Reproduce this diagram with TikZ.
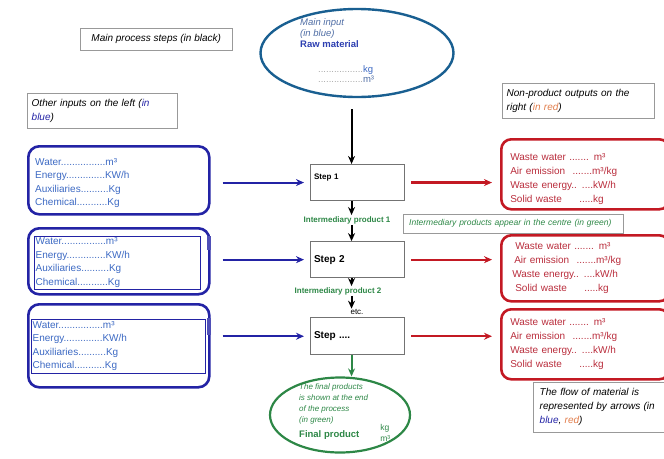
\documentclass[tikz,border=0pt]{standalone}
\usepackage{fontspec}
\setmainfont{Liberation Sans}
\usetikzlibrary{shapes, arrows.meta, positioning, calc}
\definecolor{inblue}{RGB}{35,35,165}
\definecolor{intxt}{RGB}{60,105,195}
\definecolor{outred}{RGB}{195,25,35}
\definecolor{outtxt}{RGB}{185,45,60}
\definecolor{prodgreen}{RGB}{45,135,70}
\definecolor{rawblue}{RGB}{25,95,145}
\definecolor{rawtxt}{RGB}{80,110,165}
\definecolor{notered}{RGB}{225,125,75}
\tikzset{
  note/.style={rectangle, draw=black!40, anchor=north west, inner sep=0pt, align=left, font=\fontsize{10}{14}\selectfont\itshape},
  stepbox/.style={rectangle, draw=black!55, line width=1.1pt, anchor=north west, minimum width=94pt, minimum height=36pt, text width=87pt, align=left, font=\bfseries},
  inbox/.style={rectangle, rounded corners=11pt, draw=inblue, line width=2.6pt, anchor=north west, minimum width=181pt, inner sep=0pt},
  inlist/.style={align=left, text=intxt, font=\fontsize{10}{13.5}\selectfont},
  outbox/.style={rectangle, rounded corners=10pt, draw=outred, line width=2.6pt, anchor=north west, minimum width=168pt, text width=150pt, inner xsep=0pt, inner ysep=0pt, align=left, text=outtxt, font=\fontsize{10}{14}\selectfont},
  flow/.style={-{Stealth[length=8pt,width=7pt]}, line width=2pt},
  flowin/.style={flow, inblue, shorten <=12pt, shorten >=6pt},
  flowout/.style={flow, outred, line width=2.3pt, shorten <=6pt, shorten >=8pt},
  interm/.style={text=prodgreen, font=\fontsize{8}{10}\selectfont\bfseries, inner sep=1pt},
}
\begin{document}
\begin{tikzpicture}[x=1pt, y=-1pt]
\useasboundingbox (0,0) rectangle (664,458);
%notes
\node[note, minimum width=152pt, minimum height=22pt, align=center] (notesteps) at (80,28) {Main process steps (in black)};
\node[note, minimum width=150pt, minimum height=35pt, text width=141pt] (notein) at (27,93) {Other inputs on the left ({\color{inblue}in}\\ {\color{inblue}blue})};
\node[note, minimum width=152pt, minimum height=35pt, text width=143pt] (noteout) at (502,83) {Non-product outputs on the\\ right ({\color{notered}in red})};
\node[note, minimum width=220pt, minimum height=19pt, text width=208pt, text=prodgreen, font=\fontsize{8.5}{10}\selectfont\itshape] (notemid) at (403,214) {Intermediary products appear in the centre (in green)};
\node[note, minimum width=131pt, minimum height=50pt, text width=118pt] (noteflow) at (533,382) {The flow of material is\\ represented by arrows (in\\ {\color{inblue}blue}, {\color{notered}red})};
%main input
\node[ellipse, draw=rawblue, line width=2.4pt, minimum width=193pt, minimum height=88pt] (rawmat) at (357,53) {};
\node[anchor=north west, align=left, inner sep=0pt, text=rawtxt, font=\fontsize{9.5}{11}\selectfont] (rawtext) at (300,18) {{\itshape Main input}\\ {\itshape (in blue)}\\ {\bfseries\color{inblue!60!intxt} Raw material}\\[14pt] \hspace*{18pt}{\color{black!35}.................}{\color{intxt}kg}\\[-1pt] \hspace*{18pt}{\color{black!35}.................}m³};
%steps
\node[stepbox, text depth=12pt, font=\fontsize{8}{10}\selectfont\bfseries] (step1) at (310,164) {Step 1};
\node[stepbox, below=40pt of step1, font=\fontsize{10}{12}\selectfont\bfseries] (step2) {Step 2};
\node[stepbox, below=39pt of step2, minimum height=37pt, font=\fontsize{10}{12}\selectfont\bfseries] (step3) {Step ....};
\coordinate (axis) at ([xshift=-6pt]step1.north);
\node[interm] (imp1) at (347,220) {Intermediary product 1};
\node[interm] (imp2) at (338,291) {Intermediary product 2};
\node[inner sep=0.5pt, font=\fontsize{8}{10}\selectfont] (etc) at (357,312) {etc.};
%final product
\node[ellipse, draw=prodgreen, line width=2.2pt, minimum width=140pt, minimum height=75pt] (finalprod) at (340,415) {};
\node[anchor=north west, align=left, inner sep=0pt, text=prodgreen, font=\fontsize{8}{11}\selectfont\itshape] (finaltext) at (299,383) {The final products\\ is shown at the end\\ of the process\\ (in green)\\ {\upshape\bfseries\fontsize{9.5}{11}\selectfont Final product}\hspace{21pt}\raisebox{-4pt}{\upshape\fontsize{8.5}{10}\selectfont\shortstack[l]{kg\\m³}}};
%other inputs
\node[inbox, minimum height=68pt] (inleft1) at (27,145) {};
\node[inlist, anchor=north west, inner sep=0pt] (inlist1) at (35,158) {Water................m³\\ Energy..............KW/h\\ Auxiliaries..........Kg\\ Chemical...........Kg};
\node[inbox, minimum height=66pt] (inleft2) at (27,227) {};
\node[inlist, draw=inblue, anchor=north west, minimum width=166pt, minimum height=53pt, text width=163pt, inner sep=1pt] (inlist2) at (34,236) {Water................m³\\ Energy..............KW/h\\ Auxiliaries..........Kg\\ Chemical...........Kg};
\node[inbox, minimum height=83pt] (inleft3) at (27,303) {};
\node[inlist, draw=inblue, anchor=north west, minimum width=174pt, minimum height=54pt, text width=171pt, inner sep=1pt] (inlist3) at (31,319) {Water................m³\\ Energy..............KW/h\\ Auxiliaries..........Kg\\ Chemical...........Kg};
\fill[inblue!80] ([xshift=-4pt,yshift=-9pt]inleft2.north east) rectangle ([yshift=-23pt]inleft2.north east);
\fill[inblue!80] ([xshift=-4pt,yshift=-15pt]inleft3.north east) rectangle ([yshift=-32pt]inleft3.north east);
%non-product outputs
\node[outbox, minimum height=70pt] (outright1) at (500,138) {\mbox{}\\[2pt] Waste water ....... m³\\ Air emission \hspace{4pt}.......m³/kg\\ Waste energy.. ....kW/h\\ Solid waste \hspace{14pt}.....kg};
\node[outbox, minimum height=66pt] (outright2) at (500,234) {\hspace*{5pt}Waste water ....... m³\\ \hspace*{4pt}Air emission \hspace{4pt}.......m³/kg\\ \hspace*{2pt}Waste energy.. ....kW/h\\ \hspace*{5pt}Solid waste \hspace{14pt}.....kg};
\node[outbox, minimum height=70pt] (outright3) at (500,308) {Waste water ....... m³\\ Air emission \hspace{4pt}.......m³/kg\\ Waste energy.. ....kW/h\\ Solid waste \hspace{14pt}.....kg};
% main flow
\draw[flow, shorten <=11pt] (rawmat.south -| axis) -- (axis);
\draw[flow] (step1.south -| axis) -- (imp1.north -| axis);
\draw[flow] (imp1.south -| axis) -- (step2.north -| axis);
\draw[flow] (step2.south -| axis) -- (imp2.north -| axis);
\draw[flow] (imp2.south -| axis) -- (etc.north -| axis);
\draw[flow, prodgreen] (step3.south -| axis) -- (finalprod.north -| axis);
% inputs and outputs
\draw[flowin] (inleft1.east |- step1.west) -- (step1.west);
\draw[flowin] (inleft2.east |- step2.west) -- (step2.west);
\draw[flowin] (inleft3.east |- step3.west) -- (step3.west);
\draw[flowout] (step1.east) -- (outright1.west |- step1.east);
\draw[flowout] (step2.east) -- (outright2.west |- step2.east);
\draw[flowout] (step3.east) -- (outright3.west |- step3.east);
\end{tikzpicture}
\end{document}
